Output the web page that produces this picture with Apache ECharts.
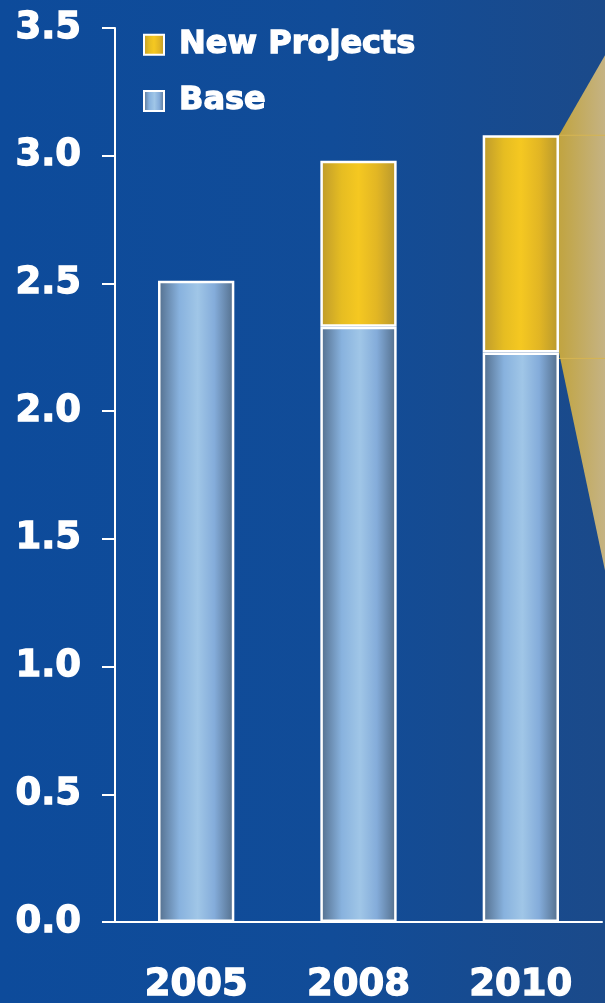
<!DOCTYPE html>
<html>
<head>
<meta charset="utf-8">
<script src="https://cdn.jsdelivr.net/npm/echarts@6/dist/echarts.min.js"></script>
<style>
  html, body { margin: 0; padding: 0; }
  body { width: 605px; height: 1003px; background: linear-gradient(90deg, #0d4b9b 0%, #114c98 55%, #1b4a8a 100%); }
  #chart { width: 605px; height: 1003px; }
</style>
</head>
<body>
<div id="chart"></div>
<script>
// Production by year: existing base plus contribution of new projects
const years = ['2005', '2008', '2010'];
const baseValues = [2.51, 2.33, 2.23];
const newProjectValues = [0, 0.65, 0.85];
const yTicks = { min: 0, max: 3.5, interval: 0.5 };

const FONT = '"DejaVu Sans", Verdana, sans-serif';
const BAR_WIDTH_RATIO = 0.47;

// heavy white lettering
const heavyText = (size) => ({
  color: '#ffffff', fontSize: size, fontWeight: 'bold', fontFamily: FONT,
  textBorderColor: '#ffffff', textBorderWidth: 1.3
});

const baseGradient = new echarts.graphic.LinearGradient(0, 0, 1, 0, [
  { offset: 0, color: '#526d8b' },
  { offset: 0.28, color: '#88b2de' },
  { offset: 0.52, color: '#a0c6e7' },
  { offset: 0.74, color: '#84acda' },
  { offset: 1, color: '#526d8a' }
]);
const goldGradient = new echarts.graphic.LinearGradient(0, 0, 1, 0, [
  { offset: 0, color: '#bd9a2c' },
  { offset: 0.28, color: '#e6bd22' },
  { offset: 0.5, color: '#f5c821' },
  { offset: 0.74, color: '#e2b624' },
  { offset: 1, color: '#b7972e' }
]);

// Callout wedge fanning out from the last stacked bar
const lastIdx = years.length - 1;
const calloutData = [[lastIdx, baseValues[lastIdx], baseValues[lastIdx] + newProjectValues[lastIdx]]];

const chart = echarts.init(document.getElementById('chart'), null, { renderer: 'canvas' });

chart.setOption({
  backgroundColor: 'transparent',
  animation: false,
  grid: { left: 115, right: 3, top: 28, bottom: 81, containLabel: false, outerBoundsMode: 'none' },
  legend: {
    orient: 'vertical',
    left: 143,
    top: 28,
    padding: 0,
    itemWidth: 20,
    itemHeight: 20,
    itemGap: 23,
    icon: 'rect',
    data: ['New Projects', 'Base'],
    textStyle: Object.assign(heavyText(32), { padding: [0, 0, 0, 10] })
  },
  xAxis: {
    type: 'category',
    data: years,
    axisLine: { lineStyle: { color: '#ffffff', width: 2 } },
    axisTick: { show: false },
    axisLabel: Object.assign(heavyText(37), { margin: 45 }),
    splitLine: { show: false }
  },
  yAxis: {
    type: 'value',
    min: yTicks.min,
    max: yTicks.max,
    interval: yTicks.interval,
    axisLine: { show: true, lineStyle: { color: '#ffffff', width: 2 } },
    axisTick: { show: true, length: 13, lineStyle: { color: '#ffffff', width: 2 } },
    axisLabel: Object.assign(heavyText(37), { margin: 34, formatter: v => v.toFixed(1) }),
    splitLine: { show: false }
  },
  series: [
    {
      name: 'callout',
      type: 'custom',
      z: 1,
      silent: true,
      encode: { x: 0, y: [1, 2] },
      data: calloutData,
      renderItem: (params, api) => {
        const bottom = api.coord([api.value(0), api.value(1)]);
        const top = api.coord([api.value(0), api.value(2)]);
        const band = api.size([1, 0])[0];
        const x0 = bottom[0] + band * BAR_WIDTH_RATIO / 2;
        const x1 = api.getWidth();
        const dx = x1 - x0;
        const yTop = top[1], yBot = bottom[1];
        return {
          type: 'group',
          children: [
            {
              type: 'polygon',
              shape: { points: [[x0, yTop], [x1, yTop - dx * 1.74], [x1, yBot + dx * 4.74], [x0, yBot]] },
              style: {
                fill: new echarts.graphic.LinearGradient(0, 0, 1, 0, [
                  { offset: 0, color: '#c1a440' },
                  { offset: 1, color: '#c5b384' }
                ])
              }
            },
            { type: 'line', shape: { x1: x0, y1: yTop, x2: x1, y2: yTop }, style: { stroke: '#d6b552', lineWidth: 1 } },
            { type: 'line', shape: { x1: x0, y1: yBot + 6, x2: x1, y2: yBot + 6 }, style: { stroke: '#d6b552', lineWidth: 1 } }
          ]
        };
      }
    },
    {
      name: 'Base',
      type: 'bar',
      stack: 'total',
      z: 3,
      barWidth: (BAR_WIDTH_RATIO * 100) + '%',
      data: baseValues,
      itemStyle: { color: baseGradient, borderColor: '#ffffff', borderWidth: 2.5 }
    },
    {
      name: 'New Projects',
      type: 'bar',
      stack: 'total',
      z: 3,
      barWidth: (BAR_WIDTH_RATIO * 100) + '%',
      data: newProjectValues.map(v => (v === 0 ? null : v)),
      itemStyle: { color: goldGradient, borderColor: '#ffffff', borderWidth: 2.5 }
    }
  ]
});
</script>
</body>
</html>
